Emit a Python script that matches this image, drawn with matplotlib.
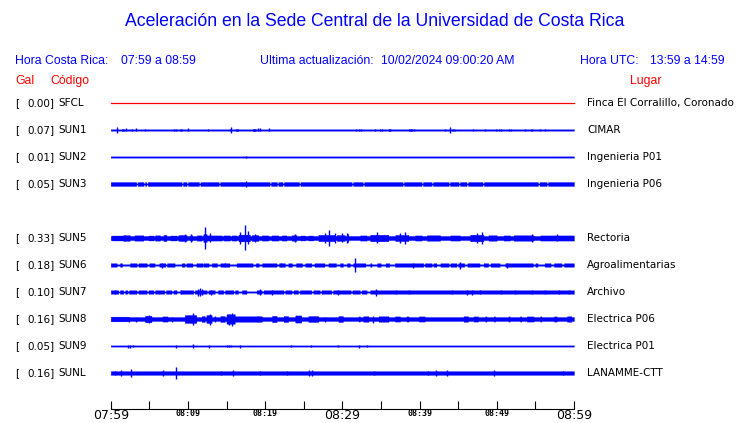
import numpy as np
import matplotlib
matplotlib.use("Agg")
import matplotlib.pyplot as plt

# ---------------------------------------------- datos
codigos = ['SFCL', 'SUN1', 'SUN2', 'SUN3', 'SUN5', 'SUN6', 'SUN7', 'SUN8', 'SUN9', 'SUNL']
gal = [0.00, 0.07, 0.01, 0.05, 0.33, 0.18, 0.10, 0.16, 0.05, 0.16]
lugares = ['Finca El Corralillo, Coronado', 'CIMAR', 'Ingenieria P01', 'Ingenieria P06',
           'Rectoria', 'Agroalimentarias', 'Archivo', 'Electrica P06', 'Electrica P01',
           'LANAMME-CTT']
filas = [0, 1, 2, 3, 5, 6, 7, 8, 9, 10]   # SUN4 no reporta

# minutos desde 07:59
marcas_min = [0, 10, 20, 30, 40, 50, 60]
marcas_txt = ['07:59', '08:09', '08:19', '08:29', '08:39', '08:49', '08:59']

# amplitud base de cada traza (semi-ancho)
base = [0.0, 0.75, 0.7, 2.0, 2.1, 0.75, 1.8, 2.0, 0.65, 1.9]

# tramos (t0, t1, semi-ancho)
sun1_tramos = [(1.45, 1.75, 1.2), (9.0, 9.25, 1.2), (16.2, 16.55, 1.2), (18.4, 18.8, 1.3),
               (36.0, 36.3, 1.2), (38.6, 39.1, 1.2), (44.2, 44.6, 1.1), (54.4, 54.7, 1.1)]
sun3_huecos = [3.41, 4.35, 4.70, 9.28, 9.92, 11.53, 14.07, 20.67, 21.63, 22.36, 24.48,
               31.3, 32.72, 37.9, 40.36, 41.66, 43.86, 45.16, 46.19, 48.26, 55.44, 56.55]
sun5_tramos = [(0.13, 1.64, 2.5), (1.64, 2.5, 2.9), (3.07, 4.23, 2.7), (4.88, 5.53, 2.5),
               (5.74, 6.39, 2.7), (6.82, 7.25, 3.0), (7.69, 8.55, 2.5), (8.77, 9.84, 3.0),
               (10.28, 10.58, 2.7), (11.14, 11.79, 2.7), (12.0, 12.44, 4.0), (12.44, 14.38, 2.6),
               (14.59, 15.46, 2.6), (15.67, 16.32, 2.6), (16.54, 18.05, 3.4), (18.26, 19.13, 3.0),
               (19.56, 20.42, 2.6), (20.85, 21.72, 2.6), (22.15, 22.8, 2.6), (23.45, 24.1, 2.8),
               (24.53, 25.18, 2.5), (25.6, 26.25, 2.5), (26.9, 29.06, 3.2), (29.27, 30.35, 3.0),
               (30.56, 30.78, 4.0), (32.3, 33.16, 2.6), (33.59, 35.96, 3.3), (36.83, 38.56, 3.1),
               (39.42, 40.28, 2.6), (40.93, 42.66, 2.8), (43.96, 45.25, 2.6), (46.55, 48.28, 3.3),
               (48.92, 50.0, 2.8), (50.87, 51.73, 2.6), (52.16, 54.76, 2.8), (55.62, 60.0, 2.6)]
sun6_tramos = [(0, 0.8), (1.2, 1.5), (2.5, 3.4), (3.6, 4.7), (5.0, 5.7), (6.3, 7.1), (7.3, 8.3),
               (9.2, 9.6), (9.8, 10.6), (11.1, 11.9), (12.0, 12.7), (13.1, 13.8), (14.2, 15.4),
               (16.3, 18.4), (18.8, 19.2), (19.6, 21.5), (21.8, 22.6), (23.0, 23.5), (24.0, 24.8),
               (25.2, 26.0), (26.4, 27.7), (28.2, 29.2), (29.7, 30.1), (30.6, 31.0), (31.4, 33.0),
               (33.6, 33.8), (34.5, 35.0), (35.6, 36.1), (36.8, 40.5), (40.7, 41.6), (41.8, 42.2),
               (42.7, 43.8), (44.0, 44.8), (45.0, 45.8), (46.2, 47.8), (48.3, 48.9), (49.2, 50.4),
               (51.1, 54.7), (55.0, 55.3), (56.2, 57.0), (57.4, 58.4), (58.7, 60.0)]
sun7_huecos = [(1.0, 1.2), (1.64, 1.86), (2.2, 2.37), (3.37, 3.58), (4.66, 4.88), (5.53, 5.74),
               (6.95, 7.17), (7.9, 8.12), (8.55, 8.98), (10.7, 10.9), (12.44, 12.65), (13.5, 13.9),
               (14.6, 14.8), (15.9, 16.1), (16.5, 17.0), (17.6, 18.9), (19.56, 19.78), (22.4, 22.6),
               (23.45, 23.66), (24.3, 24.5), (26.0, 26.25), (27.1, 27.3), (28.6, 28.8),
               (31.1, 31.3), (32.3, 32.5), (33.16, 33.6)]
sun8_tramos = [(0, 2.3, 2.4), (4.45, 5.3, 3.3), (6.7, 7.4, 2.6), (9.6, 11.1, 4.0), (11.8, 12.2, 3.0),
               (12.4, 13.1, 4.0), (14.2, 14.8, 3.0), (15.0, 16.1, 4.8), (16.1, 19.6, 2.8),
               (20.9, 21.5, 3.2), (22.4, 23.0, 3.0), (23.9, 24.7, 3.6), (25.6, 26.9, 3.0),
               (29.5, 30.1, 3.0), (32.1, 32.3, 2.6), (32.7, 33.4, 2.8), (34.7, 36.0, 2.8),
               (36.8, 37.5, 2.6), (38.3, 38.6, 2.6), (39.9, 40.7, 2.6), (45.7, 46.3, 2.8),
               (47.0, 47.6, 2.6), (48.5, 48.7, 2.6), (49.6, 49.8, 2.6), (51.5, 51.7, 2.6),
               (53.0, 53.2, 2.6), (53.9, 54.8, 2.6), (55.6, 55.8, 2.6), (57.4, 57.8, 2.6),
               (59.1, 59.7, 2.8)]

# picos (t, semi-amplitud)
sun1_picos = [(0.78, 2.8), (1.94, 1.5), (2.72, 1.2), (3.24, 1.5), (4.48, 1.0), (8.24, 1.4),
              (8.46, 1.3), (10.05, 1.5), (12.64, 1.4), (15.41, 1.0), (15.62, 2.7), (19.12, 1.5),
              (19.38, 1.5), (20.5, 1.5), (31.81, 1.4), (32.12, 1.2), (32.46, 1.4), (34.27, 1.0),
              (34.92, 1.2), (35.18, 1.2), (39.29, 1.4), (43.34, 1.3), (43.95, 3.3), (46.97, 1.0),
              (48.52, 1.0), (49.87, 1.0), (50.26, 1.0), (50.6, 1.4), (51.55, 1.0), (51.89, 1.0),
              (53.7, 1.0), (55.65, 1.0), (56.3, 1.0)]
sun2_picos = [(17.5, 1.0)]
sun3_picos = [(16.97, 2.3), (17.5, 2.7)]
sun5_picos = [(1.72, 3.3), (7.03, 3.0), (9.2, 3.0), (9.62, 4.0), (10.4, 4.0), (12.2, 11.0),
              (12.8, 4.5), (16.75, 6.0), (17.4, 12.5), (17.8, 6.5), (18.7, 4.0), (23.9, 4.0),
              (27.8, 5.0), (28.3, 8.0), (29.0, 5.0), (29.9, 4.5), (30.6, 5.0), (34.5, 5.5),
              (37.5, 5.0), (38.1, 6.0), (47.4, 5.0), (48.1, 6.0), (54.5, 4.0), (57.8, 3.5)]
sun6_picos = [(6.7, 2.5), (14.8, 2.0), (22.0, 2.0), (31.6, 7.3), (39.2, 2.5), (45.2, 3.5), (51.3, 2.5)]
sun7_picos = [(0.5, 2.0), (9.1, 2.0), (11.3, 3.5), (11.55, 4.0), (11.8, 3.0), (13.0, 2.5),
              (19.3, 3.0), (20.9, 2.5), (29.5, 2.5), (34.4, 3.5), (37.0, 2.0), (38.6, 2.0),
              (44.2, 2.0), (46.1, 2.5), (46.8, 2.5), (47.8, 2.0), (50.6, 2.0), (52.4, 2.0),
              (54.5, 2.0), (56.3, 2.0), (58.0, 2.0), (59.3, 2.0)]
sun8_picos = [(2.4, 2.5), (3.3, 2.5), (4.9, 3.8), (7.9, 2.5), (10.6, 6.0), (12.8, 5.5), (13.5, 3.0),
              (15.3, 5.5), (15.7, 6.5), (19.1, 3.0), (27.8, 2.5), (34.0, 3.5)]
sun9_picos = [(2.3, 1.5), (2.5, 1.5), (2.9, 1.3), (8.5, 1.5), (10.6, 2.0), (12.7, 1.5), (15.0, 1.2),
              (15.3, 1.2), (15.6, 1.2), (16.8, 1.5), (23.4, 1.0), (26.0, 1.0), (29.5, 1.0),
              (32.2, 1.5), (33.2, 1.2)]
sunl_picos = [(0.5, 2.0), (1.3, 3.3), (2.6, 4.5), (6.8, 2.5), (8.5, 5.8), (14.3, 2.2), (15.9, 3.0),
              (19.3, 2.2), (22.8, 2.2), (25.7, 2.5), (26.1, 2.5), (34.1, 1.8), (41.1, 2.2),
              (42.1, 2.5), (43.6, 2.5), (49.6, 3.0), (58.6, 2.2)]

# ---------------------------------------------- armar tramos por traza
tramos = [[] for _ in codigos]
tramos[1] = sun1_tramos
tramos[3] = [(t - 0.09, t + 0.09, 0.7) for t in sun3_huecos]
tramos[4] = sun5_tramos
tramos[5] = [(a, b, 1.8) for a, b in sun6_tramos]
tramos[6] = [(a, b, 0.7) for a, b in sun7_huecos]
tramos[7] = sun8_tramos
picos = [[], sun1_picos, sun2_picos, sun3_picos, sun5_picos, sun6_picos,
         sun7_picos, sun8_picos, sun9_picos, sunl_picos]

W, H = 740, 423
azul = '#0000ff'
rojo = '#ff0000'
esc = 1 / 27.0   # semi-ancho -> separacion entre trazas

fig = plt.figure(figsize=(W / 100, H / 100), dpi=100)


def ptxt(x, y, s, **kw):
    kw.setdefault('va', 'center')
    kw.setdefault('family', 'Liberation Sans')
    fig.text(x / W, 1 - y / H, s, **kw)


# ---------------------------------------------- encabezado
ptxt(375, 22, 'Aceleración en la Sede Central de la Universidad de Costa Rica',
     color=azul, fontsize=12.7, ha='center')
ptxt(15, 61, 'Hora Costa Rica:', color=azul, fontsize=8.8)
ptxt(121, 61, '07:59 a 08:59', color=azul, fontsize=8.8)
ptxt(260, 61, 'Ultima actualización:', color=azul, fontsize=8.8)
ptxt(381, 61, '10/02/2024 09:00:20 AM', color=azul, fontsize=8.8)
ptxt(580, 61, 'Hora UTC:', color=azul, fontsize=8.8)
ptxt(650, 61, '13:59 a 14:59', color=azul, fontsize=8.8)
ptxt(15, 81, 'Gal', color=rojo, fontsize=8.8)
ptxt(50, 81, 'Código', color=rojo, fontsize=8.8)
ptxt(630, 81, 'Lugar', color=rojo, fontsize=8.8)

# ---------------------------------------------- ejes de trazas
x0, x1 = 110.7, 574.0
y_eje, y_top = 409.0, 90.0
ax = fig.add_axes([x0 / W, 1 - y_eje / H, (x1 - x0) / W, (y_eje - y_top) / H])
ax.set_xlim(0, 60)
ax.set_ylim((y_eje - 103) / 27.0, (y_top - 103) / 27.0)

t = np.linspace(0, 60, 2401)
for i, cod in enumerate(codigos):
    yc = filas[i]
    if cod == 'SFCL':
        ax.plot([0, 60], [yc, yc], color=rojo, lw=0.9, clip_on=False)
        continue
    env = np.full_like(t, base[i])
    for a, b, h in tramos[i]:
        env[(t >= a) & (t < b)] = h
    ax.fill_between(t, yc - env * esc, yc + env * esc, color=azul, lw=0.2, clip_on=False)
    if picos[i]:
        pt = [p[0] for p in picos[i]]
        ph = [p[1] * esc for p in picos[i]]
        ax.vlines(pt, [yc - h for h in ph], [yc + h for h in ph], color=azul, lw=1.0)

# etiquetas izquierda / derecha
for i, cod in enumerate(codigos):
    yp = 103 + 27 * filas[i]
    ptxt(15, yp, '[', fontsize=7.5, family='DejaVu Sans')
    ptxt(54.5, yp, '%.2f]' % gal[i], fontsize=7.5, family='DejaVu Sans', ha='right')
    ptxt(58.5, yp, cod, fontsize=7.5, family='DejaVu Sans')
    ptxt(587, yp, lugares[i], fontsize=7.5, family='DejaVu Sans')

# eje de tiempo
for s in ['top', 'left', 'right']:
    ax.spines[s].set_visible(False)
ax.spines['bottom'].set_linewidth(0.8)
ax.set_yticks([])
ax.set_xticks(range(0, 61, 5))
ax.tick_params(axis='x', direction='in', length=6, width=0.8, labelbottom=False)
for m, s in zip(marcas_min, marcas_txt):
    xp = x0 + (x1 - x0) * m / 60.0
    if m in (0, 30, 60):
        ptxt(xp, 415, s, ha='center', fontsize=9, family='DejaVu Sans')
    else:
        ptxt(xp, 413.5, s, ha='center', fontsize=6, family='DejaVu Sans Mono', weight='bold')

fig.savefig('out.png', dpi=100)
